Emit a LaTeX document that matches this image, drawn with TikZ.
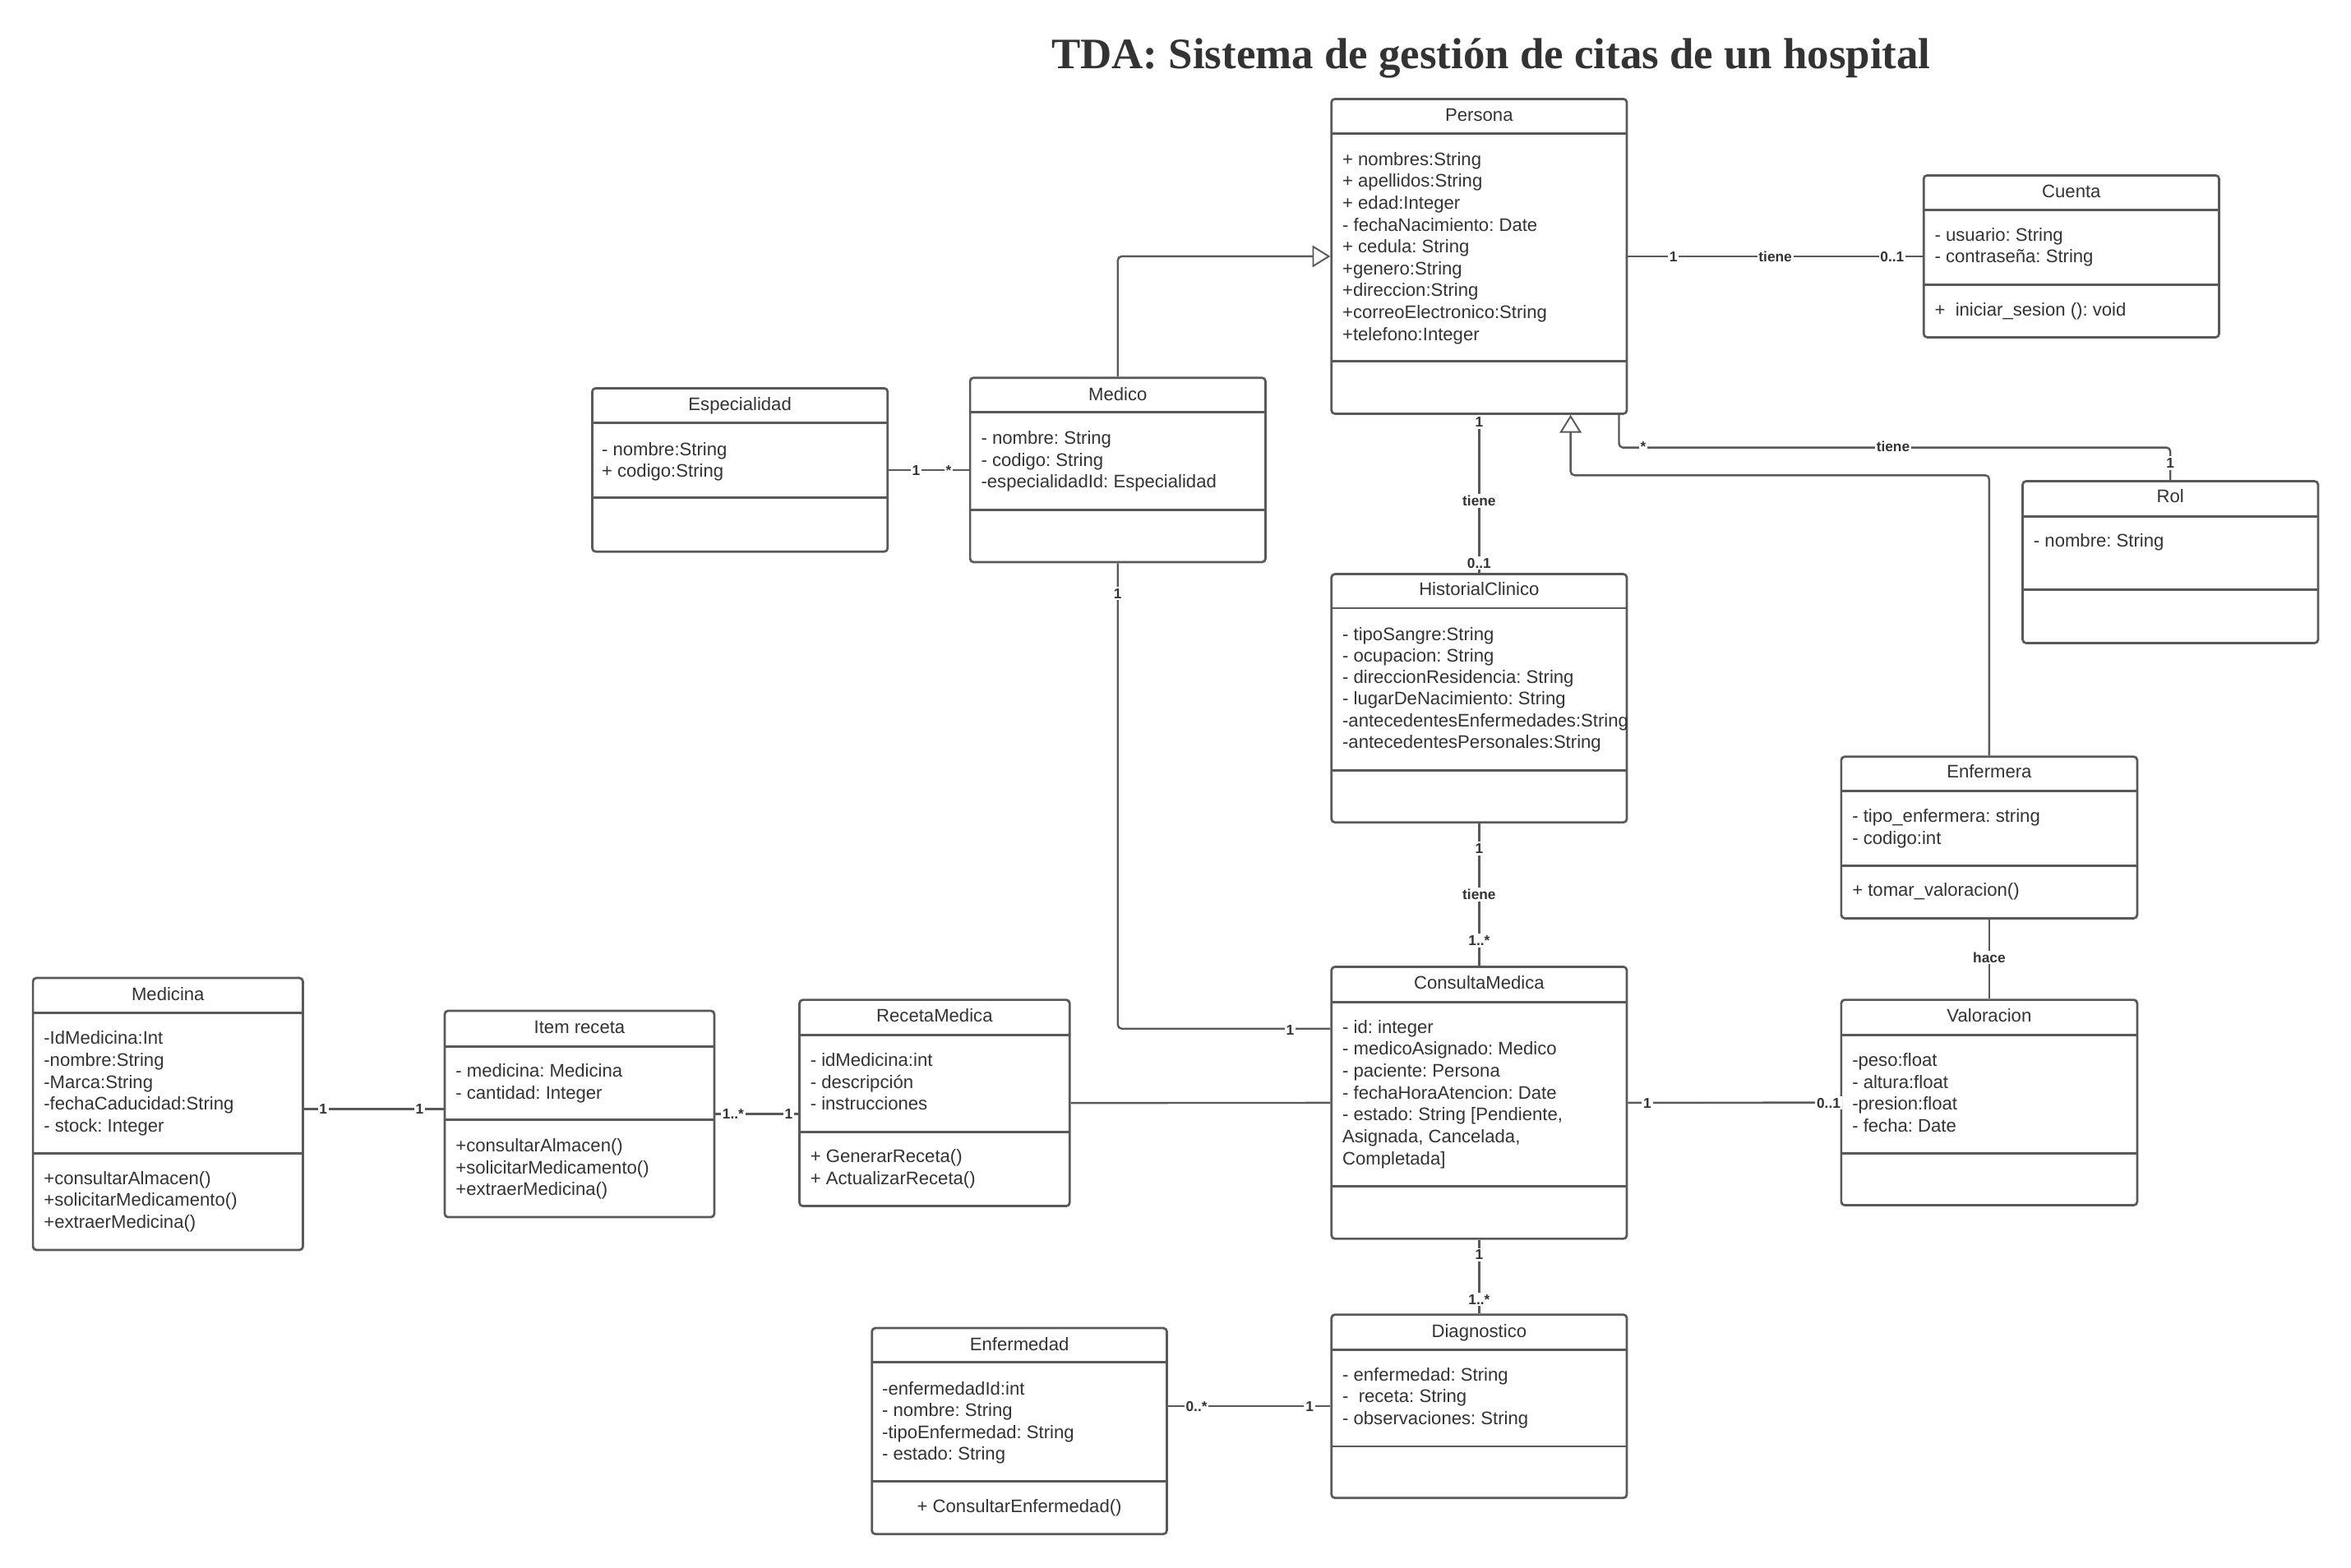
\documentclass[tikz,border=0pt]{standalone}
\usepackage{fontspec}
\setmainfont{Liberation Sans}
\newfontfamily\titlefont{Liberation Serif}
\frenchspacing
\usetikzlibrary{arrows.meta,fit,calc}
\definecolor{linea}{HTML}{595959}
\definecolor{texto}{HTML}{333333}
\tikzset{
	clase/.style={draw=linea, line width=0.85pt, rounded corners=1.3pt, inner sep=0pt, fill=white},
	divisor/.style={draw=linea, line width=0.85pt},
	nombre/.style={anchor=base, yshift=-2.5pt, inner sep=0pt, text=texto, font=\fontsize{6.9}{8.3}\selectfont},
	attr/.style={anchor=base west, yshift=-2.5pt, inner sep=0pt, text=texto, font=\fontsize{6.9}{8.3}\selectfont},
	asoc/.style={draw=linea, line width=0.75pt, rounded corners=1.5pt},
	hereda/.style={asoc, -{Triangle[open, length=6.8pt, width=8.3pt, line width=0.6pt]}},
	mult/.style={fill=white, inner sep=0.6pt, text height=3.9pt, text depth=0pt, text=texto, font=\fontsize{5.4}{6}\selectfont\bfseries},
}
\begin{document}
	\begin{tikzpicture}[x=0.02cm, y=-0.02cm]
		\useasboundingbox (0,0) rectangle (1568,1046);
		\fill[white] (0,0) rectangle (1568,1046);
		\node[anchor=base, inner sep=0pt, text=texto, font=\titlefont\bfseries\fontsize{16.5}{18}\selectfont] (titulo) at (994.5,45.7) {TDA: Sistema de gestión de citas de un hospital};
		% Persona
		\node[clase, fit={(888,66) (1085,276)}] (persona) {};
		\draw[divisor] (888,89) -- (1085,89) (888,241) -- (1085,241);
		\node[nombre] (persona-n) at (986.5,76.5) {Persona};
		\foreach \a [count=\i from 0] in {+ nombres:String, + apellidos:String, + edad:Integer, - fechaNacimiento: Date, + cedula: String, +genero:String, +direccion:String, +correoElectronico:String, +telefono:Integer}
			\node[attr] (persona-\i) at (895,105.9+14.6*\i) {\a};
		% Cuenta
		\node[clase, fit={(1283,117) (1480,225)}] (cuenta) {};
		\draw[divisor] (1283,140) -- (1480,140) (1283,190) -- (1480,190);
		\node[nombre] (cuenta-n) at (1381.5,127.2) {Cuenta};
		\node[attr] (cuenta-0) at (1290,156.3) {- usuario: String};
		\node[attr] (cuenta-1) at (1290,170.9) {- contraseña: String};
		\node[attr] (cuenta-m) at (1290,206.5) {+\ \ iniciar\_sesion (): void};
		% Especialidad
		\node[clase, fit={(395,259) (592,368)}] (especialidad) {};
		\draw[divisor] (395,282) -- (592,282) (395,332) -- (592,332);
		\node[nombre] (especialidad-n) at (493.5,269.6) {Especialidad};
		\node[attr] (especialidad-0) at (401,299.4) {- nombre:String};
		\node[attr] (especialidad-1) at (401,313.8) {+ codigo:String};
		% Medico
		\node[clase, fit={(647,252) (844,375)}] (medico) {};
		\draw[divisor] (647,275) -- (844,275) (647,340) -- (844,340);
		\node[nombre] (medico-n) at (745.5,262.6) {Medico};
		\foreach \a [count=\i from 0] in {- nombre: String, - codigo: String, -especialidadId: Especialidad}
			\node[attr] (medico-\i) at (654,292+14.5*\i) {\a};
		% Rol
		\node[clase, fit={(1349,321) (1546,429)}] (rol) {};
		\draw[divisor] (1349,344.5) -- (1546,344.5) (1349,393.5) -- (1546,393.5);
		\node[nombre] (rol-n) at (1447.5,331) {Rol};
		\node[attr] (rol-0) at (1356,360.4) {- nombre: String};
		% HistorialClinico
		\node[clase, fit={(888,383) (1085,548.6)}] (historial) {};
		\draw[divisor] (888,405.7) -- (1085,405.7) (888,514) -- (1085,514);
		\node[nombre] (historial-n) at (986.5,393) {HistorialClinico};
		\foreach \a [count=\i from 0] in {- tipoSangre:String, - ocupacion: String, - direccionResidencia: String, - lugarDeNacimiento: String, -antecedentesEnfermedades:String, -antecedentesPersonales:String}
			\node[attr] (historial-\i) at (895,422.7+14.4*\i) {\a};
		% Enfermera
		\node[clase, fit={(1228,504.8) (1425.4,612.6)}] (enfermera) {};
		\draw[divisor] (1228,527.6) -- (1425.4,527.6) (1228,577.5) -- (1425.4,577.5);
		\node[nombre] (enfermera-n) at (1326.7,514.4) {Enfermera};
		\node[attr] (enfermera-0) at (1235,544.2) {- tipo\_enfermera: string};
		\node[attr] (enfermera-1) at (1235,558.7) {- codigo:int};
		\node[attr] (enfermera-m) at (1235,593.6) {+ tomar\_valoracion()};
		% Valoracion
		\node[clase, fit={(1228,667) (1425.4,804)}] (valoracion) {};
		\draw[divisor] (1228,690.4) -- (1425.4,690.4) (1228,769.4) -- (1425.4,769.4);
		\node[nombre] (valoracion-n) at (1326.7,677.5) {Valoracion};
		\foreach \a [count=\i from 0] in {-peso:float, - altura:float, -presion:float, - fecha: Date}
			\node[attr] (valoracion-\i) at (1235,706.9+14.6*\i) {\a};
		% ConsultaMedica
		\node[clase, fit={(888,645) (1085,826.4)}] (consulta) {};
		\draw[divisor] (888,668.5) -- (1085,668.5) (888,791.3) -- (1085,791.3);
		\node[nombre] (consulta-n) at (986.5,655.5) {ConsultaMedica};
		\foreach \a [count=\i from 0] in {- id: integer, - medicoAsignado: Medico, - paciente: Persona, - fechaHoraAtencion: Date, {- estado: String [Pendiente,}, {Asignada, Cancelada,}, Completada]}
			\node[attr] (consulta-\i) at (895,684.9+14.6*\i) {\a};
		% Diagnostico
		\node[clase, fit={(888,877) (1085,999.3)}] (diagnostico) {};
		\draw[divisor] (888,900.4) -- (1085,900.4) (888,964.9) -- (1085,964.9);
		\node[nombre] (diagnostico-n) at (986.5,887.6) {Diagnostico};
		\foreach \a [count=\i from 0] in {- enfermedad: String, -\ \ receta: String, - observaciones: String}
			\node[attr] (diagnostico-\i) at (895,916.8+14.6*\i) {\a};
		% Enfermedad
		\node[clase, fit={(581.5,886) (778.2,1023.4)}] (enfermedad) {};
		\draw[divisor] (581.5,908.8) -- (778.2,908.8) (581.5,988.1) -- (778.2,988.1);
		\node[nombre] (enfermedad-n) at (679.9,896.4) {Enfermedad};
		\foreach \a [count=\i from 0] in {-enfermedadId:int, - nombre: String, -tipoEnfermedad: String, - estado: String}
			\node[attr] (enfermedad-\i) at (588,926+14.6*\i) {\a};
		\node[nombre] (enfermedad-m) at (679.9,1004.7) {+ ConsultarEnfermedad()};
		% Medicina
		\node[clase, fit={(22,652.4) (202,833.9)}] (medicina) {};
		\draw[divisor] (22,675.8) -- (202,675.8) (22,769.4) -- (202,769.4);
		\node[nombre] (medicina-n) at (112,663) {Medicina};
		\foreach \a [count=\i from 0] in {-IdMedicina:Int, -nombre:String, -Marca:String, -fechaCaducidad:String, - stock: Integer}
			\node[attr] (medicina-\i) at (28.9,692.3+14.6*\i) {\a};
		\foreach \a [count=\i from 0] in {+consultarAlmacen(), +solicitarMedicamento(), +extraerMedicina()}
			\node[attr] (medicina-m\i) at (28.9,785.8+14.6*\i) {\a};
		% Item receta
		\node[clase, fit={(296.6,674.3) (476.4,812)}] (item) {};
		\draw[divisor] (296.6,698.1) -- (476.4,698.1) (296.6,747.1) -- (476.4,747.1);
		\node[nombre] (item-n) at (386.5,685) {Item receta};
		\node[attr] (item-0) at (303.6,714.2) {- medicina: Medicina};
		\node[attr] (item-1) at (303.6,728.8) {- cantidad: Integer};
		\foreach \a [count=\i from 0] in {+consultarAlmacen(), +solicitarMedicamento(), +extraerMedicina()}
			\node[attr] (item-m\i) at (303.6,763.9+14.6*\i) {\a};
		% RecetaMedica
		\node[clase, fit={(533.2,667) (713.4,804.6)}] (receta) {};
		\draw[divisor] (533.2,690.4) -- (713.4,690.4) (533.2,755.1) -- (713.4,755.1);
		\node[nombre] (receta-n) at (623.3,677.6) {RecetaMedica};
		\foreach \a [count=\i from 0] in {- idMedicina:int, - descripción, - instrucciones}
			\node[attr] (receta-\i) at (540.1,706.9+14.6*\i) {\a};
		\node[attr] (receta-m0) at (540.1,771.2) {+ GenerarReceta()};
		\node[attr] (receta-m1) at (540.1,785.8) {+ ActualizarReceta()};
		% herencia
		\draw[hereda] (medico.north) |- (persona.west);
		\draw[hereda] (enfermera.north) -- ++(0,-187) -| ($(persona.south)+(61,0)$);
		% asociaciones
		\draw[asoc] (persona.east) -- (cuenta.west);
		\draw[asoc] ($(persona.south east)+(-6,0)$) -- ++(0,21.8) -| (rol.north);
		\draw[asoc] (persona.south) -- (historial.north);
		\draw[asoc] (especialidad.east) -- (medico.west);
		\draw[asoc] (medico.south) |- ($(consulta.north west)+(0,42)$);
		\draw[asoc] (historial.south) -- (consulta.north);
		\draw[asoc] (enfermera.south) -- (valoracion.north);
		\draw[asoc] (consulta.east) -- (valoracion.west);
		\draw[asoc] (receta.east) -- (consulta.west);
		\draw[asoc] (consulta.south) -- (diagnostico.north);
		\draw[asoc] (diagnostico.west -| enfermedad.east) -- (diagnostico.west);
		\draw[asoc] ($(medicina.east)+(0,-3.4)$) -- ($(medicina.east -| item.west)+(0,-3.4)$);
		\draw[asoc] (item.east) -- (item.east -| receta.west);
		% multiplicidades
		\node[mult] (pc1) at (1116,171) {1};
		\node[mult] (pc2) at (1184,171) {tiene};
		\node[mult] (pc3) at (1262,171) {0..1};
		\node[mult] (pr1) at (1096,297.8) {*};
		\node[mult] (pr2) at (1262.6,297.8) {tiene};
		\node[mult] (pr3) at (1447.5,309) {1};
		\node[mult] (ph1) at (986.5,281.6) {1};
		\node[mult] (ph2) at (986.5,334.2) {tiene};
		\node[mult] (ph3) at (986.5,375.7) {0..1};
		\node[mult] (em1) at (611,313.5) {1};
		\node[mult] (em2) at (632.7,313.5) {*};
		\node[mult] (mc1) at (745.5,396) {1};
		\node[mult] (mc2) at (860.4,687) {1};
		\node[mult] (hc1) at (986.5,566) {1};
		\node[mult] (hc2) at (986.5,596.7) {tiene};
		\node[mult] (hc3) at (986.5,627.4) {1..*};
		\node[mult] (ev1) at (1326.7,638.7) {hace};
		\node[mult] (cv1) at (1098.7,735.7) {1};
		\node[mult] (cv2) at (1219.6,735.7) {0..1};
		\node[mult] (cd1) at (986.5,837) {1};
		\node[mult] (cd2) at (986.5,866.8) {1..*};
		\node[mult] (ed1) at (798,938.2) {0..*};
		\node[mult] (ed2) at (873.4,938.2) {1};
		\node[mult] (mi1) at (215.6,739.8) {1};
		\node[mult] (mi2) at (279.8,739.8) {1};
		\node[mult] (ir1) at (489,743.2) {1..*};
		\node[mult] (ir2) at (526,743.2) {1};
	\end{tikzpicture}
\end{document}
